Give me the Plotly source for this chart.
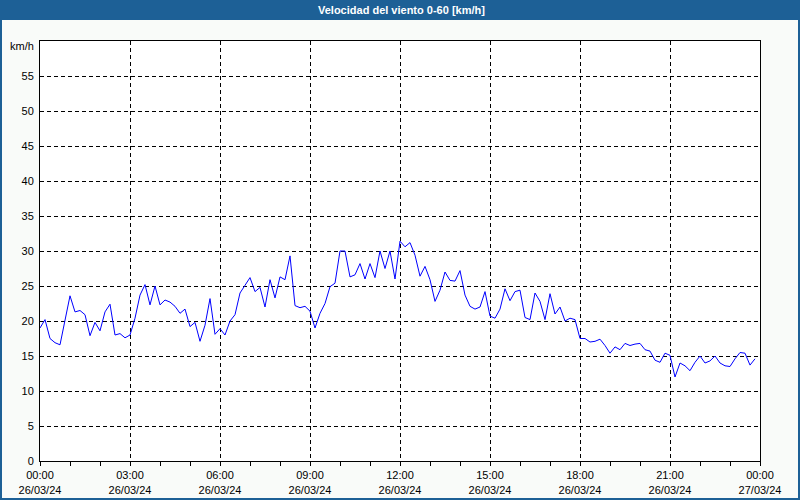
import pandas as pd
import plotly.graph_objects as go

# Wind speed (km/h), one reading every 10 minutes on 26/03/24
wind_kmh = [
    19.0, 20.2, 17.5, 16.9, 16.6, 20.0, 23.6, 21.3, 21.5, 20.9,
    17.9, 19.8, 18.6, 21.3, 22.4, 18.0, 18.2, 17.6, 18.0, 20.4,
    23.7, 25.2, 22.3, 25.0, 22.3, 23.0, 22.7, 22.1, 21.1, 21.7,
    19.2, 19.8, 17.1, 19.4, 23.2, 18.1, 18.9, 18.0, 20.0, 20.9,
    24.0, 25.1, 26.2, 24.2, 24.8, 22.0, 25.9, 23.3, 26.3, 25.9,
    29.3, 22.2, 21.9, 22.1, 21.4, 19.0, 21.1, 22.5, 24.9, 25.4,
    30.0, 30.0, 26.3, 26.6, 28.2, 26.0, 28.2, 26.2, 30.0, 27.5,
    30.0, 26.0, 31.4, 30.6, 31.2, 29.4, 26.4, 27.8, 25.9, 22.8,
    24.4, 27.0, 25.8, 25.7, 27.2, 23.7, 22.1, 21.7, 22.0, 24.2,
    20.7, 20.4, 21.7, 24.6, 22.9, 24.2, 24.4, 20.5, 20.2, 24.0,
    22.8, 20.2, 23.9, 21.0, 22.0, 20.0, 20.4, 20.2, 17.5, 17.5,
    17.0, 17.1, 17.4, 16.5, 15.4, 16.3, 15.9, 16.8, 16.5, 16.7,
    16.8, 15.9, 15.7, 14.4, 14.1, 15.4, 15.1, 12.0, 14.0, 13.6,
    12.9, 14.1, 15.0, 14.0, 14.3, 15.0, 14.0, 13.6, 13.5, 14.6,
    15.5, 15.4, 13.7, 14.6,
]
times = pd.date_range("2024-03-26 00:00", periods=len(wind_kmh), freq="10min")

tick_times = pd.date_range("2024-03-26 00:00", "2024-03-27 00:00", freq="3h")
tick_text = [f"{t:%H:%M}<br>{t:%d/%m/%y}" for t in tick_times]
y_ticks = list(range(0, 60, 5))

title_text = "Velocidad del viento 0-60 [km/h]"
unit_text = "km/h"

W, H = 800, 500
ML, MR, MT, MB = 40, 40, 41, 39
PW, PH = W - ML - MR, H - MT - MB
frame_blue = "#1d6096"
font_family = "Liberation Sans, DejaVu Sans, sans-serif"


def px_x(px):
    return (px - ML) / PW


def px_y(py):
    return (H - MB - py) / PH


fig = go.Figure()
fig.add_trace(go.Scatter(
    x=times, y=wind_kmh, mode="lines",
    line=dict(color="#0000ff", width=1),
    hoverinfo="skip", showlegend=False,
))

shapes = [
    dict(type="rect", xref="paper", yref="paper", x0=px_x(0), x1=px_x(W),
         y0=px_y(0), y1=px_y(20), fillcolor=frame_blue, line=dict(width=0)),
    dict(type="rect", xref="paper", yref="paper", x0=px_x(0), x1=px_x(2),
         y0=px_y(0), y1=px_y(H), fillcolor=frame_blue, line=dict(width=0)),
    dict(type="rect", xref="paper", yref="paper", x0=px_x(W - 2), x1=px_x(W),
         y0=px_y(0), y1=px_y(H), fillcolor=frame_blue, line=dict(width=0)),
    dict(type="rect", xref="paper", yref="paper", x0=px_x(0), x1=px_x(W),
         y0=px_y(H - 2), y1=px_y(H), fillcolor=frame_blue, line=dict(width=0)),
]

annotations = [
    dict(text=f"<b>{title_text}</b>", xref="paper", yref="paper",
         x=px_x(401), y=px_y(10), xanchor="center", yanchor="middle",
         showarrow=False, font=dict(color="white", size=11, family=font_family)),
    dict(text=unit_text, xref="paper", yref="paper",
         x=px_x(36), y=px_y(46), xanchor="right", yanchor="middle",
         showarrow=False, font=dict(color="black", size=11, family=font_family)),
]

fig.update_layout(
    width=W, height=H,
    margin=dict(l=ML, r=MR, t=MT, b=MB, pad=0, autoexpand=False),
    paper_bgcolor="#f9fbf9", plot_bgcolor="white",
    shapes=shapes, annotations=annotations,
    font=dict(family=font_family, size=11, color="black"),
)
fig.update_xaxes(
    type="date", automargin=False,
    range=[tick_times[0], tick_times[-1]],
    tickvals=tick_times, ticktext=tick_text,
    ticks="outside", ticklen=4, tickcolor="black",
    minor=dict(dtick=3600000, ticks="outside", ticklen=4, tickcolor="black", showgrid=False),
    showgrid=True, gridcolor="black", griddash="4px,3px", gridwidth=1,
    showline=True, linecolor="black", linewidth=1, mirror=True,
    zeroline=False, tickfont=dict(size=11),
)
fig.update_yaxes(
    range=[0, 60], tickvals=y_ticks, automargin=False,
    ticks="", ticklabelstandoff=3,
    showgrid=True, gridcolor="black", griddash="4px,3px", gridwidth=1,
    showline=True, linecolor="black", linewidth=1, mirror=True,
    zeroline=False, tickfont=dict(size=11),
)

fig.write_html("out.html")
